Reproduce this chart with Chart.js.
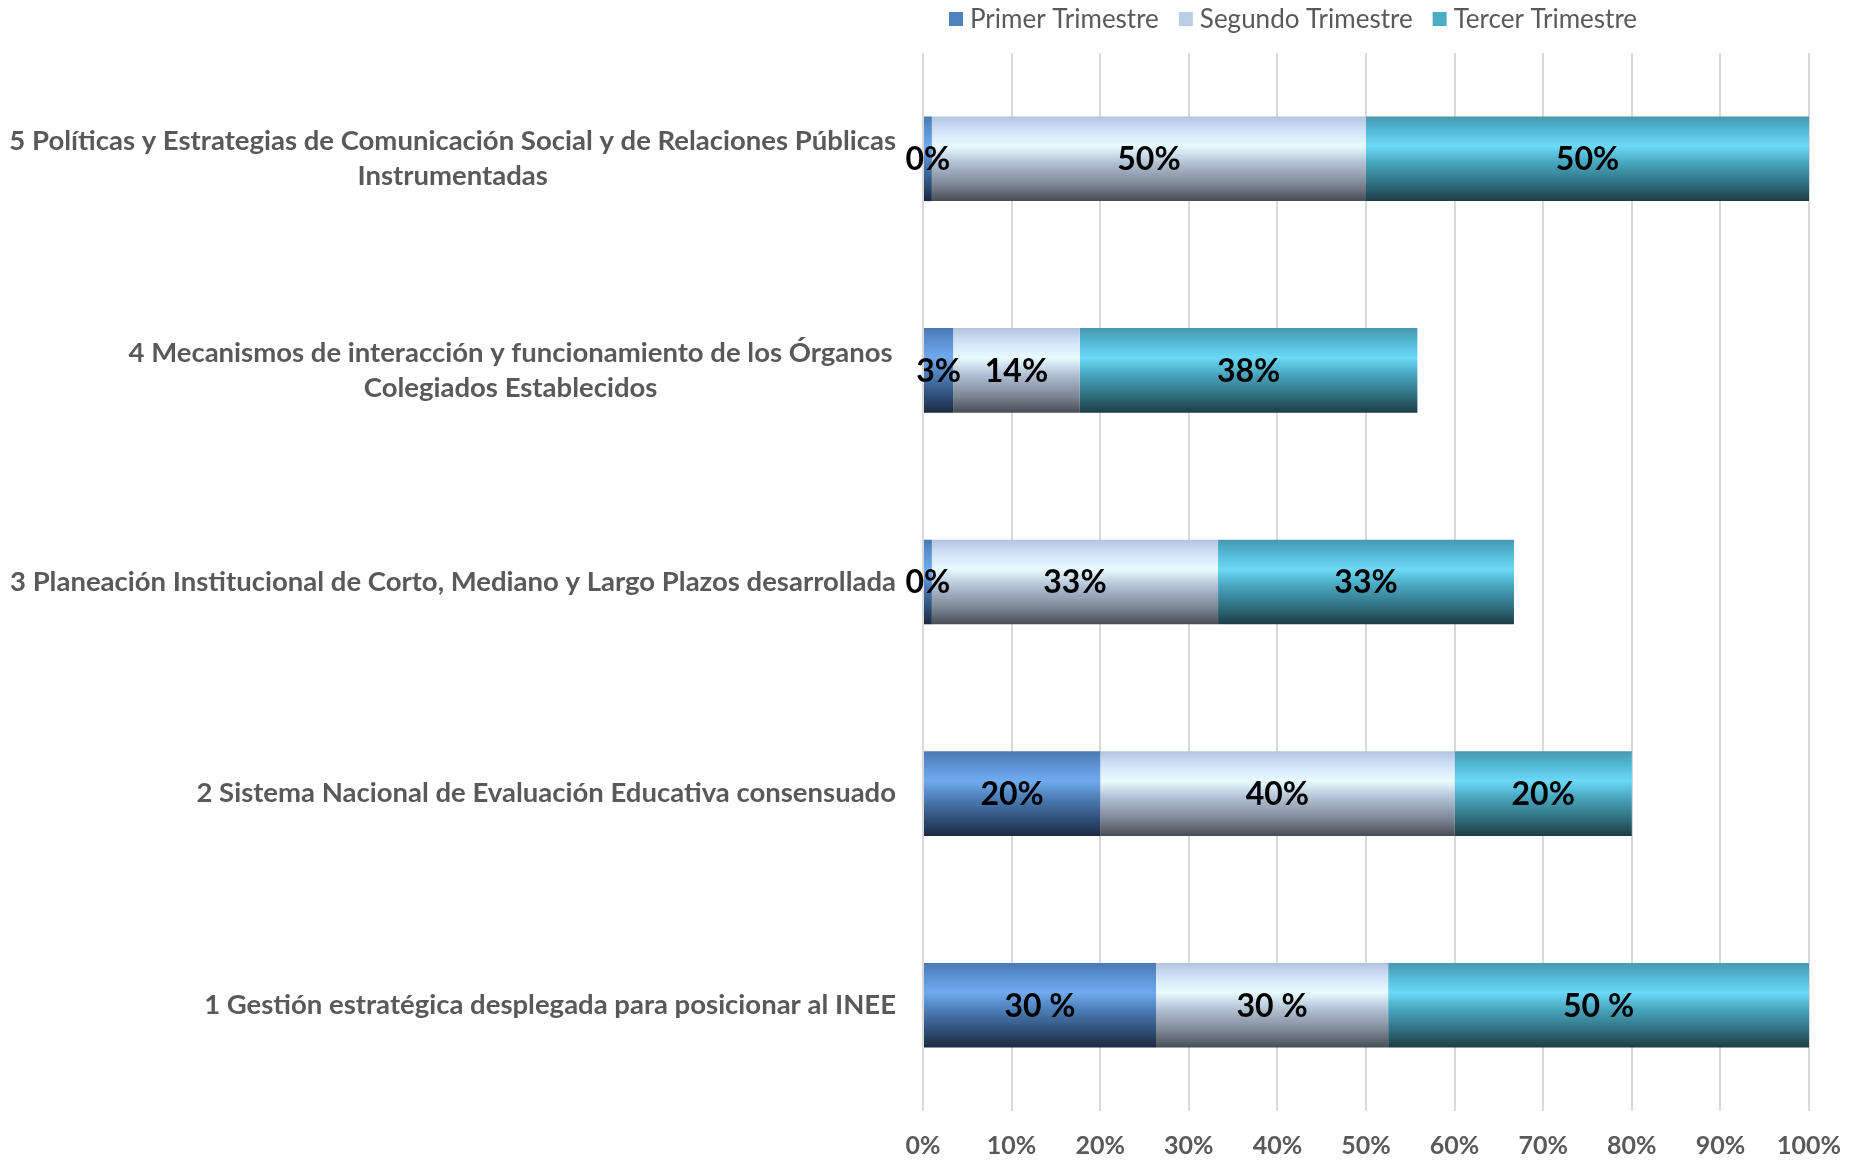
<!DOCTYPE html>
<html lang="es">
<head>
<meta charset="utf-8">
<title>Avance por trimestre</title>
<script src="https://cdn.jsdelivr.net/npm/chart.js@4/dist/chart.umd.min.js"></script>
<style>
    html, body { margin: 0; padding: 0; background: #ffffff; }
    #contenedor { width: 1855px; height: 1167px; }
</style>
</head>
<body>
<div id="contenedor"><canvas id="grafica"></canvas></div>
<script>
// ==========================================
// DATOS (de arriba hacia abajo)
// ==========================================

const categorias = [
    ["5 Políticas y Estrategias de Comunicación Social y de Relaciones Públicas", "Instrumentadas"],
    ["4 Mecanismos de interacción y funcionamiento de los Órganos ", "Colegiados Establecidos"],
    ["3 Planeación Institucional de Corto, Mediano y Largo Plazos desarrollada"],
    ["2 Sistema Nacional de Evaluación Educativa consensuado"],
    ["1 Gestión estratégica desplegada para posicionar al INEE"]
];

const series = ["Primer Trimestre", "Segundo Trimestre", "Tercer Trimestre"];

// largo de cada tramo (en % del eje)
const primer  = [1, 3.4, 1, 20, 26.3];
const segundo = [49, 14.3, 32.3, 40, 26.2];
const tercer  = [50, 38.1, 33.4, 20, 47.5];

// texto mostrado dentro de cada tramo
const etiquetasPrimer  = ["0%", "3%", "0%", "20%", "30 %"];
const etiquetasSegundo = ["50%", "14%", "33%", "40%", "30 %"];
const etiquetasTercer  = ["50%", "38%", "33%", "20%", "50 %"];

const ticksX = [0, 10, 20, 30, 40, 50, 60, 70, 80, 90, 100];

// ==========================================
// ESTILOS
// ==========================================

const coloresLeyenda = ["#4f81bd", "#b9cde5", "#4bacc6"];

const degradados = [
    [[0, "#4a78b2"], [0.15, "#5a90d0"], [0.35, "#70aaee"], [0.55, "#4d7fb8"], [0.8, "#2f4f78"], [1, "#1c2a42"]],
    [[0, "#b3c4de"], [0.15, "#cfe0f6"], [0.35, "#e8fcff"], [0.55, "#b2c0d4"], [0.8, "#7d8795"], [1, "#474d56"]],
    [[0, "#4898b0"], [0.15, "#50b6d2"], [0.35, "#6cd9f7"], [0.55, "#47a5bd"], [0.8, "#2f6e7e"], [1, "#1d3c46"]]
];

const grisTexto = "#595959";
const fuente = "Lato, 'Open Sans', sans-serif";

function degradado(ctx, s) {
    const chart = ctx.chart;
    const area = chart.chartArea;
    if (ctx.type !== "data" || !area || !chart.scales.y) return coloresLeyenda[s];
    const centro = chart.scales.y.getPixelForValue(ctx.dataIndex);
    const mitad = (area.bottom - area.top) / categorias.length * 0.4 / 2;
    const g = chart.ctx.createLinearGradient(0, centro - mitad, 0, centro + mitad);
    degradados[s].forEach(p => g.addColorStop(p[0], p[1]));
    return g;
}

// ==========================================
// PLUGIN : etiquetas, categorías, leyenda
// ==========================================

const etiquetas = [etiquetasPrimer, etiquetasSegundo, etiquetasTercer];

const dibujos = {
    id: "dibujos",
    afterDatasetsDraw(chart) {
        const c = chart.ctx;
        c.save();
        c.font = "bold 32px " + fuente;
        c.fillStyle = "#000000";
        c.textAlign = "center";
        c.textBaseline = "middle";
        chart.data.datasets.forEach((ds, i) => {
            chart.getDatasetMeta(i).data.forEach((bar, j) => {
                c.fillText(etiquetas[i][j], (bar.x + bar.base) / 2, bar.y + 1);
            });
        });
        c.restore();
    },
    afterDraw(chart) {
        const c = chart.ctx;
        const y = chart.scales.y;
        c.save();

        // categorías
        c.font = "bold 27.5px " + fuente;
        c.fillStyle = grisTexto;
        c.textAlign = "center";
        c.textBaseline = "middle";
        const bordeDerecho = chart.chartArea.left - 27;
        const interlinea = 35.5;
        categorias.forEach((lineas, j) => {
            const ancho = Math.max(...lineas.map(l => c.measureText(l).width));
            const centroX = bordeDerecho - ancho / 2;
            const centroY = y.getPixelForValue(j);
            lineas.forEach((l, k) => {
                c.fillText(l.trim(), centroX, centroY + (k - (lineas.length - 1) / 2) * interlinea);
            });
        });

        // leyenda
        c.font = "26px " + fuente;
        c.textAlign = "left";
        let x = 949;
        const yLeyenda = 19;
        series.forEach((nombre, s) => {
            c.fillStyle = coloresLeyenda[s];
            c.fillRect(x, yLeyenda - 7, 14, 14);
            c.fillStyle = grisTexto;
            c.fillText(nombre, x + 21, yLeyenda + 1);
            x += 21 + c.measureText(nombre).width + 20;
        });

        c.restore();
    }
};

// ==========================================
// GRÁFICA
// ==========================================

const valores = [primer, segundo, tercer];

new Chart(document.getElementById("grafica"), {
    type: "bar",
    data: {
        labels: categorias,
        datasets: series.map((nombre, s) => ({
            label: nombre,
            data: valores[s],
            backgroundColor: ctx => degradado(ctx, s),
            borderWidth: 0,
            categoryPercentage: 1,
            barPercentage: 0.4
        }))
    },
    options: {
        indexAxis: "y",
        responsive: true,
        maintainAspectRatio: false,
        animation: false,
        layout: {
            padding: { top: 53, right: 46, bottom: 0, left: 0 }
        },
        plugins: {
            legend: { display: false },
            tooltip: { enabled: false }
        },
        scales: {
            x: {
                stacked: true,
                min: 0,
                max: 100,
                afterBuildTicks: scale => {
                    scale.ticks = ticksX.map(v => ({ value: v }));
                },
                afterFit: scale => {
                    scale.height = 56;
                    scale.paddingLeft = 0;
                    scale.paddingRight = 0;
                },
                ticks: {
                    callback: v => v + "%",
                    color: grisTexto,
                    font: { family: fuente, size: 25, weight: "bold" },
                    padding: 20,
                    maxRotation: 0
                },
                grid: { color: "#d9d9d9", lineWidth: 2, drawTicks: false },
                border: { display: false }
            },
            y: {
                stacked: true,
                ticks: { display: false },
                grid: { display: false },
                border: { display: false },
                afterFit: scale => { scale.width = 923; }
            }
        }
    },
    plugins: [dibujos]
});
</script>
</body>
</html>
